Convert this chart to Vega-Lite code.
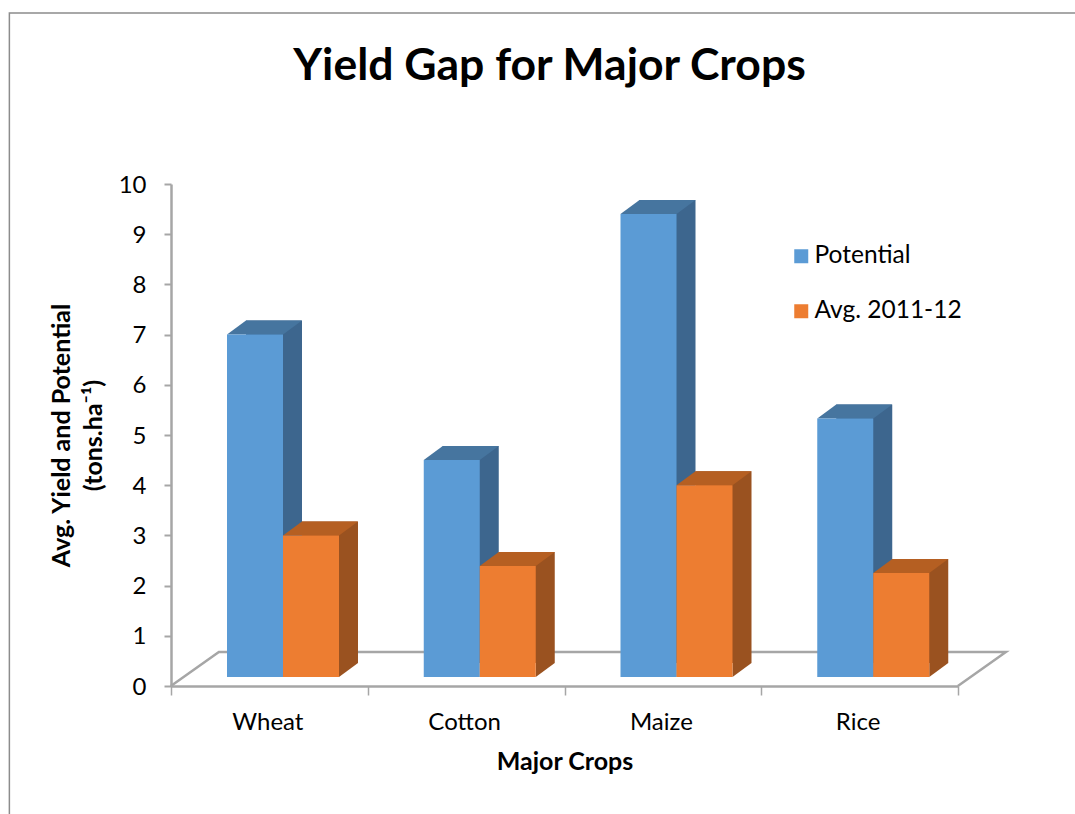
{
"$schema":"https://vega.github.io/schema/vega-lite/v6.json",
"width":787,"height":502,
"autosize":"none",
"padding":{"left":171,"top":184,"right":117,"bottom":128},
"background":"white",
"title":{"text":"Yield Gap for Major Crops","font":"Lato","fontSize":44.5,"fontWeight":"bold","color":"#000000","anchor":"middle","frame":"group","dx":-15,"offset":-79},
"config":{"view":{"stroke":null},"font":"Lato"},
"data":{"values":[
{"crop":"Wheat","series":"Potential","value":7.0},
{"crop":"Wheat","series":"Avg.  2011-12","value":3.0},
{"crop":"Cotton","series":"Potential","value":4.5},
{"crop":"Cotton","series":"Avg.  2011-12","value":2.39},
{"crop":"Maize","series":"Potential","value":9.4},
{"crop":"Maize","series":"Avg.  2011-12","value":4.0},
{"crop":"Rice","series":"Potential","value":5.33},
{"crop":"Rice","series":"Avg.  2011-12","value":2.25}
]},
"encoding":{
"x":{"field":"crop","type":"nominal","sort":null,"scale":{"domain":["Wheat","Cotton","Maize","Rice"],"paddingInner":0,"paddingOuter":0},
"axis":{"title":"Major Crops","titleFont":"Lato","titleFontSize":25,"titleFontWeight":"bold","titleColor":"#000000","titlePadding":15,"labelFont":"Lato","labelFontSize":24,"labelColor":"#000000","labelAngle":0,"labelPadding":15,"labelOffset":-2,"tickBand":"extent","tickSize":9,"tickColor":"#a6a6a6","tickWidth":1.5,"domainColor":"#a6a6a6","domainWidth":2.5,"grid":false}},
"y":{"field":"value","type":"quantitative","scale":{"domain":[0,10],"nice":false,"zero":true},
"axis":{"title":["Avg. Yield and Potential","(tons.ha⁻¹)"],"titleFont":"Lato","titleFontSize":25,"titleFontWeight":"bold","titleColor":"#000000","titlePadding":12,"titleLineHeight":32,"labelFont":"Lato","labelFontSize":24,"labelColor":"#000000","labelPadding":18,"labelOffset":1,"values":[0,1,2,3,4,5,6,7,8,9,10],"tickSize":7,"tickColor":"#a6a6a6","tickWidth":2,"domainColor":"#a6a6a6","domainWidth":2.5,"grid":false}}
},
"layer":[
{"data":{"values":[{"crop":"Wheat","value":0}]},
 "mark":{"type":"point","shape":"M-260,128 L-260,-673 L806,-673","size":4,"filled":false,"stroke":"#8c8c8c","strokeWidth":1.5,"opacity":1}},
{"data":{"values":[{"crop":"Wheat","value":0}]},
 "mark":{"type":"point","shape":"M-98.5,0 L-50.5,-34 L736.5,-34 L688.5,0","size":4,"filled":false,"stroke":"#a6a6a6","strokeWidth":2.5,"opacity":1}},
{"mark":{"type":"bar","yOffset":-14,"y2Offset":-14},
 "encoding":{"xOffset":{"field":"series","type":"nominal","sort":null,"scale":{"domain":["Potential","Avg.  2011-12"],"paddingInner":0,"paddingOuter":0,"range":[75,187]}},
 "y2":{"datum":0.18},
 "color":{"condition":{"test":"datum.series==='Potential'","value":"#3D668E"},"value":"#9A5220"}}},
{"mark":{"type":"point","shape":"M28,0 L47,-14 L28,-14 Z","size":4,"filled":true,"strokeWidth":0,"opacity":1},
 "encoding":{"xOffset":{"field":"series","type":"nominal","sort":null,"scale":{"domain":["Potential","Avg.  2011-12"],"paddingInner":0,"paddingOuter":0,"range":[84,140]}},
 "y":{"datum":0.18},
 "color":{"condition":{"test":"datum.series==='Potential'","value":"#3D668E"},"value":"#9A5220"}}},
{"mark":{"type":"point","shape":"M-28,0 L-9,-14 L47,-14 L28,0 Z","size":4,"filled":true,"strokeWidth":0,"opacity":1},
 "encoding":{"xOffset":{"field":"series","type":"nominal","sort":null,"scale":{"domain":["Potential","Avg.  2011-12"],"paddingInner":0,"paddingOuter":0,"range":[84,140]}},
 "color":{"condition":{"test":"datum.series==='Potential'","value":"#46759F"},"value":"#B55F22"}}},
{"mark":{"type":"bar"},
 "encoding":{"xOffset":{"field":"series","type":"nominal","sort":null,"scale":{"domain":["Potential","Avg.  2011-12"],"paddingInner":0,"paddingOuter":0,"range":[56,168]}},
 "y2":{"datum":0.18},
 "color":{"field":"series","type":"nominal","sort":null,"scale":{"domain":["Potential","Avg.  2011-12"],"range":["#5B9BD5","#ED7D31"]},
 "legend":{"title":null,"orient":"none","legendX":618,"legendY":60,"labelFont":"Lato","labelFontSize":24.5,"labelColor":"#000000","labelOffset":1,"symbolType":"square","symbolSize":196,"symbolStrokeWidth":0,"rowPadding":30,"labelLimit":300}}}}
],
"resolve":{"scale":{"xOffset":"independent"}}
}
